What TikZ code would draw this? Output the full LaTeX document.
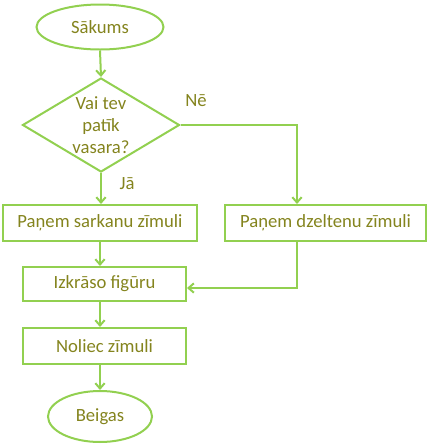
\documentclass[tikz,border=0pt]{standalone}
\usepackage{fontspec}
\setmainfont{Carlito}
\usetikzlibrary{shapes.geometric,arrows.meta}
\definecolor{lg}{HTML}{92D050}
\definecolor{tx}{HTML}{84841E}
\tikzset{
  base/.style={draw=lg, line width=1.5pt, text=tx, font=\fontsize{14}{16.5}\selectfont, inner sep=0pt},
  terminal/.style={base, ellipse},
  decision/.style={base, diamond, align=center},
  process/.style={base, rectangle},
  conn/.style={draw=lg, line width=1.5pt, -{Straight Barb[length=4pt,width=7pt]}},
  lbl/.style={text=tx, font=\fontsize{14}{16.5}\selectfont, inner sep=0pt},
}
\begin{document}
\begin{tikzpicture}[x=0.75pt,y=-0.75pt]
\useasboundingbox (0,0) rectangle (430,447);
\node[terminal, minimum width=127*0.75pt, minimum height=45*0.75pt] (start) at (100,27) {Sākums};
\node[decision, minimum width=157*0.75pt, minimum height=94*0.75pt, aspect=1.67] (dec) at (101,125) {Vai tev\\patīk\\vasara?};
\node[process, minimum width=194*0.75pt, minimum height=36*0.75pt] (red) at (100,223) {Paņem sarkanu zīmuli};
\node[process, minimum width=201*0.75pt, minimum height=36*0.75pt] (yel) at (325.5,223) {Paņem dzeltenu zīmuli};
\node[process, minimum width=163*0.75pt, minimum height=34*0.75pt] (col) at (104.5,284) {Izkrāso figūru};
\node[process, minimum width=163*0.75pt, minimum height=36*0.75pt] (put) at (104.5,346) {Noliec zīmuli};
\node[terminal, minimum width=104*0.75pt, minimum height=51*0.75pt] (end) at (100,416.5) {Beigas};
\node[lbl] (ne) at (196,101) {Nē};
\node[lbl] (ja) at (127,184) {Jā};
\coordinate (c1) at (297,125);
\coordinate (c2) at (297,288);
\draw[conn] (start.south) -- (dec.north);
\draw[conn] (dec.south) -- (dec.south |- red.north);
\draw[conn] (dec.east) -- (c1) -- (c1 |- yel.north);
\draw[conn] (red.south) -- (red.south |- col.north);
\draw[conn] (c1 |- yel.south) -- (c2) -- (c2 -| col.east);
\draw[conn] (red.south |- col.south) -- (red.south |- put.north);
\draw[conn] (red.south |- put.south) -- (red.south |- end.north);
\end{tikzpicture}
\end{document}
